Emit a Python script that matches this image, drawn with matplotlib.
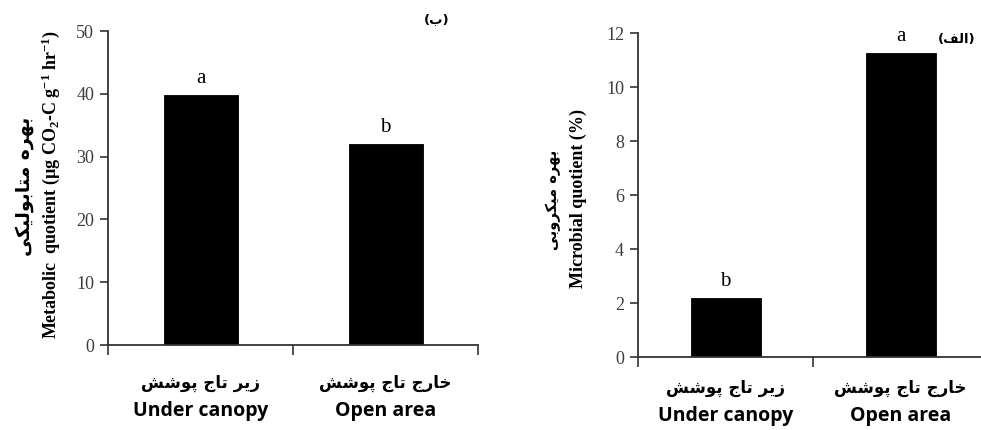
import matplotlib
matplotlib.use("Agg")
import matplotlib.pyplot as plt
import matplotlib.transforms as mtransforms

# ---------------- data ----------------
cats_en = ["Under canopy", "Open area"]
cats_fa = ["زیر تاج پوشش", "خارج تاج پوشش"]
metabolic = [39.8, 32.0]
metabolic_letters = ["a", "b"]
microbial = [2.2, 11.25]
microbial_letters = ["b", "a"]
ylabel_metab_en = "Metabolic  quotient (µg CO$_2$-C g$^{-1}$ hr$^{-1}$)"
ylabel_metab_fa = "بهره متابولیکی"
ylabel_micro_en = "Microbial quotient (%)"
ylabel_micro_fa = "بهره میکروبی"
panel_left = "ب"
panel_right = "الف"

# ---------- minimal Persian shaping (presentation forms, visual order) ----------
FORMS = {
    'ا': ('\uFE8D', '\uFE8E', None, None),
    'ب': ('\uFE8F', '\uFE90', '\uFE91', '\uFE92'),
    'پ': ('\uFB56', '\uFB57', '\uFB58', '\uFB59'),
    'ت': ('\uFE95', '\uFE96', '\uFE97', '\uFE98'),
    'ج': ('\uFE9D', '\uFE9E', '\uFE9F', '\uFEA0'),
    'خ': ('\uFEA5', '\uFEA6', '\uFEA7', '\uFEA8'),
    'ر': ('\uFEAD', '\uFEAE', None, None),
    'ز': ('\uFEAF', '\uFEB0', None, None),
    'ش': ('\uFEB5', '\uFEB6', '\uFEB7', '\uFEB8'),
    'ف': ('\uFED1', '\uFED2', '\uFED3', '\uFED4'),
    'ک': ('\uFB8E', '\uFB8F', '\uFB90', '\uFB91'),
    'ل': ('\uFEDD', '\uFEDE', '\uFEDF', '\uFEE0'),
    'م': ('\uFEE1', '\uFEE2', '\uFEE3', '\uFEE4'),
    'ه': ('\uFEE9', '\uFEEA', '\uFEEB', '\uFEEC'),
    'و': ('\uFEED', '\uFEEE', None, None),
    'ی': ('\uFBFC', '\uFBFD', '\uFBFE', '\uFBFF'),
}


def shape(s):
    out = []
    for i, c in enumerate(s):
        if c not in FORMS:
            out.append(c)
            continue
        f = FORMS[c]
        prev = s[i - 1] if i > 0 else ''
        nxt = s[i + 1] if i + 1 < len(s) else ''
        jp = prev in FORMS and FORMS[prev][2] is not None
        jn = nxt in FORMS and f[2] is not None
        if jp and jn:
            out.append(f[3])
        elif jp:
            out.append(f[1])
        elif jn:
            out.append(f[2])
        else:
            out.append(f[0])
    return ''.join(reversed(out))


SERIF = ['Liberation Serif', 'DejaVu Serif']
plt.rcParams['font.family'] = SERIF
plt.rcParams['mathtext.fontset'] = 'custom'
plt.rcParams['mathtext.rm'] = 'Liberation Serif:bold'
plt.rcParams['mathtext.it'] = 'Liberation Serif:bold'
plt.rcParams['mathtext.bf'] = 'Liberation Serif:bold'
plt.rcParams['mathtext.default'] = 'rm'

W, H = 981, 430
fig = plt.figure(figsize=(W / 100, H / 100), dpi=100)
fig.patch.set_facecolor('white')

SPINE = '#333333'
TICKC = '#3c3c3c'
FA_FONT = ['DejaVu Sans']
EN_FONT = ['Open Sans', 'DejaVu Sans']


def px_axes(l, t, r, b):
    return fig.add_axes([l / W, 1 - b / H, (r - l) / W, (b - t) / H])


def panel(ax, values, letters, ymax, ystep, en_pad_px, fa_off_px):
    n = len(values)
    centers = [i + 0.5 for i in range(n)]
    ax.bar(centers, values, width=0.4, color='black', edgecolor='black', linewidth=0.6)
    ax.set_xlim(0, n)
    ax.set_ylim(0, ymax)
    for s in ['top', 'right']:
        ax.spines[s].set_visible(False)
    for s in ['left', 'bottom']:
        ax.spines[s].set_color(SPINE)
        ax.spines[s].set_linewidth(1.3)
    ax.set_yticks([ystep * k for k in range(int(round(ymax / ystep)) + 1)])
    ax.tick_params(axis='y', direction='out', length=6, width=1.2, color=SPINE,
                   labelsize=13, labelcolor=TICKC, pad=4)
    ax.set_xticks(list(range(n + 1)))
    ax.set_xticklabels([''] * (n + 1))
    ax.tick_params(axis='x', which='major', direction='out', length=7, width=1.2, color=SPINE)
    ax.set_xticks(centers, labels=cats_en, minor=True)
    ax.tick_params(axis='x', which='minor', length=0, pad=en_pad_px * 0.72,
                   labelsize=14)
    for lab in ax.get_xticklabels(minor=True):
        lab.set_family(EN_FONT)
        lab.set_fontweight('bold')
        lab.set_color('black')
    trans = mtransforms.blended_transform_factory(ax.transData, ax.transAxes)
    off = mtransforms.ScaledTranslation(0, -fa_off_px / 100, fig.dpi_scale_trans)
    for c, t in zip(centers, cats_fa):
        ax.text(c, 0, shape(t), transform=trans + off, ha='center', va='center',
                fontsize=12, fontweight='bold', family=FA_FONT, color='black')
    for c, v, l in zip(centers, values, letters):
        ax.annotate(l, xy=(c, v), xytext=(0, 12), textcoords='offset pixels',
                    ha='center', va='baseline', fontsize=15, family=SERIF, color='black')


# Left panel (metabolic quotient)
axL = px_axes(108, 31, 478, 345)
panel(axL, metabolic, metabolic_letters, 50, 10, 56, 38)
axL.set_ylabel(ylabel_metab_en, family=SERIF, fontweight='bold', fontsize=13)
axL.yaxis.label.set_va('center')
axL.yaxis.set_label_coords((51 - 108) / 370, (345 - 185) / 314)
fig.text(25 / W, 1 - 186 / H, shape(ylabel_metab_fa), rotation=90, ha='center', va='center',
         fontsize=13.5, fontweight='bold', family=FA_FONT)
fig.text(437 / W, 1 - 20 / H, '(' + shape(panel_left) + ')', ha='center', va='center',
         fontsize=9.5, fontweight='bold', family=FA_FONT)

# Right panel (microbial quotient)
axR = px_axes(638, 33, 988, 357)
panel(axR, microbial, microbial_letters, 12, 2, 49, 31)
axR.set_ylabel(ylabel_micro_en, family=SERIF, fontweight='bold', fontsize=13)
axR.yaxis.label.set_va('center')
axR.yaxis.set_label_coords((578 - 638) / 350, (357 - 198) / 324)
fig.text(553 / W, 1 - 200 / H, shape(ylabel_micro_fa), rotation=90, ha='center', va='center',
         fontsize=10.5, fontweight='bold', family=FA_FONT)
fig.text(957 / W, 1 - 40 / H, '(' + shape(panel_right) + ')', ha='center', va='center',
         fontsize=9.5, fontweight='bold', family=FA_FONT)

fig.savefig('out.png', dpi=100, facecolor='white')
